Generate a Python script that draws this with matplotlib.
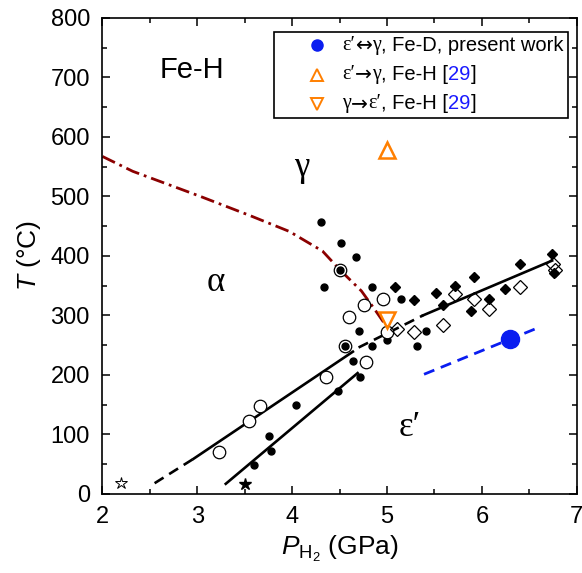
import matplotlib
matplotlib.use("Agg")
import matplotlib.pyplot as plt
from matplotlib.ticker import MultipleLocator
from matplotlib.offsetbox import (AnchoredOffsetbox, HPacker, VPacker,
                                  TextArea, DrawingArea)
from matplotlib.lines import Line2D

plt.rcParams['font.family'] = ['Liberation Sans', 'DejaVu Sans']
plt.rcParams['mathtext.fontset'] = 'custom'
plt.rcParams['mathtext.rm'] = 'Liberation Sans'
plt.rcParams['mathtext.it'] = 'Liberation Sans:italic'

# ---------------- data ----------------
fill_circ_x = [4.30, 4.52, 4.67, 4.34, 4.84, 5.15, 4.70, 5.41, 5.00, 4.84,
               5.32, 4.64, 4.72, 4.48, 4.04, 3.76, 3.78, 3.60]
fill_circ_y = [457, 422, 398, 347, 347, 328, 273, 273, 258, 248,
               248, 223, 197, 173, 149, 98, 72, 48]

dbl_circ_x = [4.50, 4.56]
dbl_circ_y = [377, 248]

open_circ_x = [4.96, 4.76, 4.60, 5.00, 4.78, 4.36, 3.66, 3.55, 3.23]
open_circ_y = [328, 318, 298, 272, 221, 197, 148, 123, 71]

fill_diam_x = [5.08, 5.28, 5.52, 5.59, 5.72, 5.88, 5.92, 6.08, 6.24, 6.40, 6.74, 6.76]
fill_diam_y = [347, 325, 337, 317, 350, 308, 364, 328, 345, 386, 403, 372]

open_diam_x = [5.10, 5.28, 5.59, 5.72, 5.92, 6.08, 6.40, 6.75, 6.77]
open_diam_y = [277, 272, 283, 336, 327, 311, 348, 386, 376]

star_fill = (3.50, 17)
star_open = (2.20, 18)

fed_x, fed_y = [6.30], [260]            # present work, Fe-D
up_x, up_y = [5.00], [577]              # eps' -> gamma [29]
down_x, down_y = [5.00], [292]          # gamma -> eps' [29]

# boundary lines
lineA_dash_x, lineA_dash_y = [2.55, 2.96], [18, 59]
lineA_x, lineA_y = [2.96, 4.64], [59, 239]
lineB_x, lineB_y = [3.30, 4.69], [17, 203]
lineC_dash_x, lineC_dash_y = [4.70, 5.38], [246, 300]
lineC_x, lineC_y = [5.38, 6.74], [300, 392]
blue_x, blue_y = [5.39, 6.62], [201, 281]
curve_x = [2.00, 2.32, 3.03, 3.55, 3.97, 4.32, 4.50, 4.73, 4.87, 4.97]
curve_y = [567, 542, 500, 468, 441, 408, 377, 341, 310, 287]

# ---------------- figure ----------------
fig = plt.figure(figsize=(5.82, 5.73), dpi=100)
ax = fig.add_axes([0.176, 0.138, 0.815, 0.831])

k = 'black'
ax.plot(lineA_dash_x, lineA_dash_y, color=k, lw=1.9, ls=(0, (4, 2.5)))
ax.plot(lineA_x, lineA_y, color=k, lw=1.9)
ax.plot(lineB_x, lineB_y, color=k, lw=1.9)
ax.plot(lineC_dash_x, lineC_dash_y, color=k, lw=1.9, ls=(0, (4, 2.5)))
ax.plot(lineC_x, lineC_y, color=k, lw=1.9)
ax.plot(blue_x, blue_y, color='#0a1df0', lw=2.0, ls=(0, (4, 2.5)))
ax.plot(curve_x, curve_y, color='#8b0000', lw=2.0, ls=(0, (5, 1.8, 1, 1.8)))

ax.plot(fill_circ_x, fill_circ_y, 'o', color=k, ms=5, mec=k, ls='none')
ax.plot(dbl_circ_x, dbl_circ_y, 'o', ms=9, mfc='white', mec=k, mew=0.9, ls='none')
ax.plot(dbl_circ_x, dbl_circ_y, 'o', ms=5, color=k, ls='none')
ax.plot(open_circ_x, open_circ_y, 'o', ms=9, mfc='white', mec=k, mew=0.9, ls='none')
ax.plot(fill_diam_x, fill_diam_y, 'D', ms=5.5, color=k, ls='none')
ax.plot(open_diam_x, open_diam_y, 'D', ms=7.5, mfc='none', mec=k, mew=0.9, ls='none')
ax.plot([star_fill[0]], [star_fill[1]], '*', ms=9, color=k, ls='none')
ax.plot([star_open[0]], [star_open[1]], '*', ms=9, mfc='white', mec=k, mew=0.7, ls='none')

ax.plot(fed_x, fed_y, 'o', ms=13, color='#0a1df0', ls='none')
ax.plot(up_x, up_y, '^', ms=12, mfc='none', mec='#ff7f00', mew=1.8, ls='none')
ax.plot(down_x, down_y, 'v', ms=12, mfc='none', mec='#ff7f00', mew=1.8, ls='none')

# region labels
ax.text(2.94, 712, 'Fe-H', fontsize=21, ha='center', va='center')
serif = ['Liberation Serif', 'DejaVu Serif']
ax.text(4.10, 548, 'γ', fontsize=25, family=serif, ha='center', va='center')
ax.text(3.19, 356, 'α', fontsize=25, family=serif, ha='center', va='center')
ax.text(5.24, 112, 'ε′', fontsize=25, family=serif, ha='center', va='center')

ax.set_xlim(2, 7)
ax.set_ylim(0, 800)
ax.xaxis.set_major_locator(MultipleLocator(1))
ax.xaxis.set_minor_locator(MultipleLocator(0.5))
ax.yaxis.set_major_locator(MultipleLocator(100))
ax.yaxis.set_minor_locator(MultipleLocator(50))
ax.tick_params(which='both', direction='in', top=True, right=True, width=1.1)
ax.tick_params(which='major', length=6, labelsize=17)
ax.tick_params(axis='x', which='major', pad=9)
ax.tick_params(axis='y', which='major', pad=9)
ax.tick_params(which='minor', length=3.5)
for s in ax.spines.values():
    s.set_linewidth(1.2)

ax.set_xlabel(r'$P_{\mathrm{H_2}}$ (GPa)', fontsize=19, labelpad=4)
ax.set_ylabel(r'$T$ (°C)', fontsize=19, labelpad=5)

# ---------------- legend ----------------
fs = 14.5
sans = ['Liberation Sans', 'DejaVu Sans']
serif2 = ['Liberation Serif', 'DejaVu Sans']
arrowfam = ['DejaVu Sans']


def marker_box(marker, **kw):
    da = DrawingArea(46, 14, 0, 0)
    da.add_artist(Line2D([28], [7], marker=marker, ls='none', **kw))
    return da


def t(s, fam, color='black'):
    return TextArea(s, textprops=dict(fontsize=fs, family=fam, color=color))


rows = [
    HPacker(children=[marker_box('o', ms=8, color='#0a1df0'),
                      t('ε′', serif2), t('↔', arrowfam), t('γ', serif2),
                      t(', Fe-D, present work', sans)],
            sep=0, pad=0, align='center'),
    HPacker(children=[marker_box('^', ms=9, mfc='none', mec='#ff7f00', mew=1.4),
                      t('ε′', serif2), t('→', arrowfam), t('γ', serif2),
                      t(', Fe-H [', sans),
                      t('29', sans, '#1a1aff'), t(']', sans)],
            sep=0, pad=0, align='center'),
    HPacker(children=[marker_box('v', ms=9, mfc='none', mec='#ff7f00', mew=1.4),
                      t('γ', serif2), t('→', arrowfam), t('ε′', serif2),
                      t(', Fe-H [', sans),
                      t('29', sans, '#1a1aff'), t(']', sans)],
            sep=0, pad=0, align='center'),
]
vp = VPacker(children=rows, sep=7, pad=0, align='left')
anch = AnchoredOffsetbox(loc='upper right', child=vp, pad=0.3, borderpad=0,
                         frameon=True, bbox_to_anchor=(0.981, 0.971),
                         bbox_transform=ax.transAxes)
anch.patch.set_boxstyle('square,pad=0')
anch.patch.set_edgecolor('black')
anch.patch.set_linewidth(1.2)
ax.add_artist(anch)

fig.savefig('out.png', dpi=100)
